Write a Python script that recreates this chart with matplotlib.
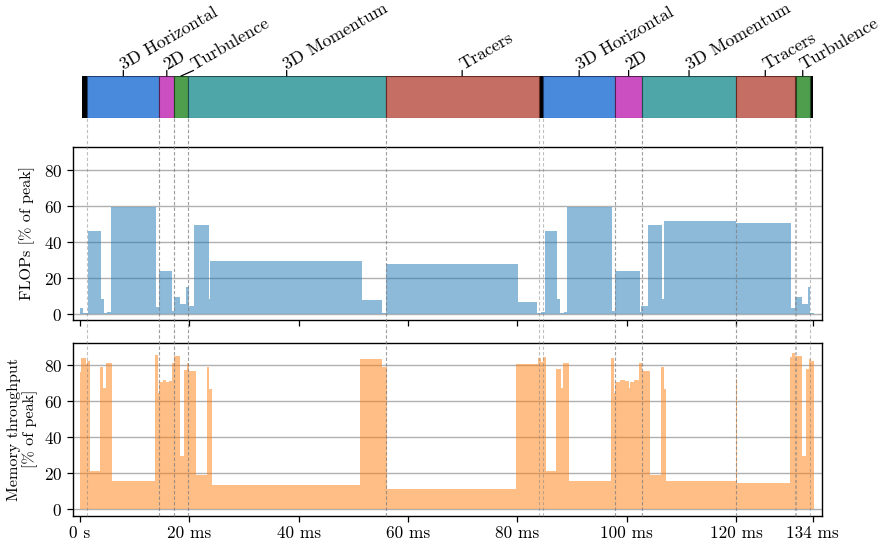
import matplotlib
matplotlib.use("Agg")
import matplotlib.pyplot as plt
from matplotlib.lines import Line2D
from matplotlib.transforms import blended_transform_factory
import numpy as np

plt.rcParams['font.family'] = 'serif'
plt.rcParams['font.serif'] = ['cmr10', 'DejaVu Serif']
plt.rcParams['mathtext.fontset'] = 'cm'
plt.rcParams['axes.formatter.use_mathtext'] = True

# ---------------- data ----------------
region_names = ["3D Horizontal", "2D", "Turbulence", "3D Momentum", "Tracers",
                "3D Horizontal", "2D", "3D Momentum", "Tracers", "Turbulence"]
region_start = [1.33, 14.5, 17.24, 19.7, 55.9, 84.7, 97.9, 102.8, 120.0, 130.9]
region_end = [14.5, 17.24, 19.7, 55.9, 83.9, 97.9, 102.8, 120.0, 130.7, 133.5]
region_colors = {"3D Horizontal": "#4a8add", "2D": "#cc4fc1", "Turbulence": "#4e9e4e",
                 "3D Momentum": "#4ea6a8", "Tracers": "#c46e64"}
region_edges = {"3D Horizontal": "#1f3f70", "2D": "#5a1f55", "Turbulence": "#1f4a1f",
                "3D Momentum": "#1f5050", "Tracers": "#6a2a24"}
label_dx = [0, 0, 9, 0, 0, 0, 0, 0, 0, 0]
trace_span = (0.3, 134.0)

flops_t = [0.0, 0.5, 1.4, 3.85, 4.4, 5.0, 5.67, 13.9, 14.45, 16.76, 17.2, 18.3, 19.3,
           19.9, 20.85, 23.5, 23.8, 51.5, 55.2, 55.9, 80.1, 83.5, 84.4, 85.0, 87.3,
           87.75, 88.5, 89.1, 97.4, 97.8, 102.4, 102.7, 103.9, 106.5, 106.8, 120.05,
           130.0, 130.8, 132.0, 133.2, 133.6, 134.2]
flops_v = [3.3, 0.5, 46.3, 8.5, 0.5, 1.1, 59.8, 4.2, 24.0, 2.0, 9.8, 5.9, 15.3,
           4.6, 49.8, 8.5, 29.6, 7.9, 0.8, 27.8, 6.8, 0.5, 1.5, 46.3, 8.5,
           0.5, 1.1, 59.8, 2.0, 24.2, 1.0, 4.6, 49.8, 8.5, 51.7, 50.9,
           3.3, 9.4, 5.9, 15.3, 0.8]

mem_t = [0.0, 0.2, 1.04, 1.33, 1.83, 3.66, 4.27, 4.7, 5.9, 13.7, 14.2, 14.5, 15.2,
         15.7, 16.2, 16.76, 17.2, 18.3, 19.0, 19.5, 19.9, 21.15, 23.2, 23.6, 24.2,
         51.2, 55.3, 56.1, 79.8, 83.7, 84.4, 84.7, 85.2, 87.1, 87.9, 88.4, 89.4,
         97.1, 97.6, 97.9, 98.8, 99.7, 100.4, 100.6, 101.3, 102.2, 102.8, 104.2,
         106.2, 106.8, 107.1, 120.0, 120.25, 129.8, 130.2, 130.7, 132.0, 132.8,
         133.3, 133.8, 134.2]
mem_v = [76.1, 84.2, 81.0, 82.6, 21.3, 79.2, 67.6, 81.3, 15.7, 85.7, 64.7, 70.5,
         71.8, 71.0, 71.5, 81.1, 85.2, 29.6, 77.4, 81.3, 76.8, 19.2, 79.2, 66.8,
         13.3, 83.5, 79.2, 11.3, 80.6, 84.2, 82.0, 84.4, 21.3, 77.8, 67.6, 81.1,
         15.7, 83.9, 64.7, 71.0, 71.8, 71.2, 67.5, 71.0, 71.8, 81.1, 76.8, 19.2,
         79.2, 66.8, 15.7, 72.2, 14.4, 84.8, 86.7, 85.2, 29.6, 78.0, 83.3, 82.2]

xticks = [0, 20, 40, 60, 80, 100, 120, 134]
xticklabels = ["0 s", "20 ms", "40 ms", "60 ms", "80 ms", "100 ms", "120 ms", "134 ms"]
yticks = [0, 20, 40, 60, 80]

# ---------------- figure ----------------
fig = plt.figure(figsize=(8.89, 5.46), dpi=100)
L, W = 0.0818, 0.8425
ax_bar = fig.add_axes([L, 0.7839, W, 0.0769])
ax1 = fig.add_axes([L, 0.4139, W, 0.3174], sharex=ax_bar)
ax2 = fig.add_axes([L, 0.0555, W, 0.3168], sharex=ax_bar)

FS_TICK = 12.4
FS_LABEL = 11.6

# top bar
ax_bar.barh(0, trace_span[1] - trace_span[0], left=trace_span[0], height=1,
            color='black', edgecolor='black', lw=0)
for name, s, e, dx in zip(region_names, region_start, region_end, label_dx):
    ax_bar.barh(0, e - s, left=s, height=1, color=region_colors[name],
                edgecolor=region_edges[name], lw=0.8)
    c = (s + e) / 2
    ax_bar.annotate("", xy=(c, 1), xycoords=('data', 'axes fraction'),
                    xytext=(dx, 4.0), textcoords='offset points',
                    arrowprops=dict(arrowstyle='-', lw=0.9, color='black',
                                    shrinkA=0, shrinkB=0), annotation_clip=False)
    ax_bar.annotate(name, xy=(c, 1), xycoords=('data', 'axes fraction'),
                    xytext=(dx + 0.5, 4.0), textcoords='offset points',
                    rotation=30, rotation_mode='anchor', ha='left', va='baseline',
                    fontsize=12.8, annotation_clip=False)
ax_bar.set_ylim(-0.5, 0.5)
ax_bar.axis('off')

for ax, t, v, col in [(ax1, flops_t, flops_v, 'C0'), (ax2, mem_t, mem_v, 'C1')]:
    yy = list(v) + [v[-1]]
    ax.fill_between(t, yy, step='post', color=col, alpha=0.5, lw=0)
    ax.set_yticks(yticks)
    ax.yaxis.grid(True, color='#b0b0b0', lw=1.0)
    ax.set_axisbelow(True)
    ax.tick_params(labelsize=FS_TICK, direction='out', length=4, width=0.9)
    for sp in ax.spines.values():
        sp.set_linewidth(1.0)

ax1.set_ylim(-3.2, 93.1)
ax2.set_ylim(-3.6, 92.6)
ax1.set_xlim(-1.34, 135.67)
ax2.set_xticks(xticks)
ax2.set_xticklabels(xticklabels)
ax1.tick_params(labelbottom=False)
ax1.set_ylabel("FLOPs [% of peak]", fontsize=FS_LABEL, labelpad=6)
ax2.set_ylabel("Memory throughput\n[% of peak]", fontsize=FS_LABEL, linespacing=1.15,
               labelpad=4)

# dashed boundaries spanning from bar to bottom panel
tr = blended_transform_factory(ax2.transData, fig.transFigure)
for s, e in zip(region_start, region_end):
    for x in (s, e):
        fig.add_artist(Line2D([x, x], [0.0555, 0.7839], transform=tr, color='gray',
                              lw=0.8, ls=(0, (3, 2)), alpha=0.5, zorder=5))

fig.savefig("out.png", dpi=100)
